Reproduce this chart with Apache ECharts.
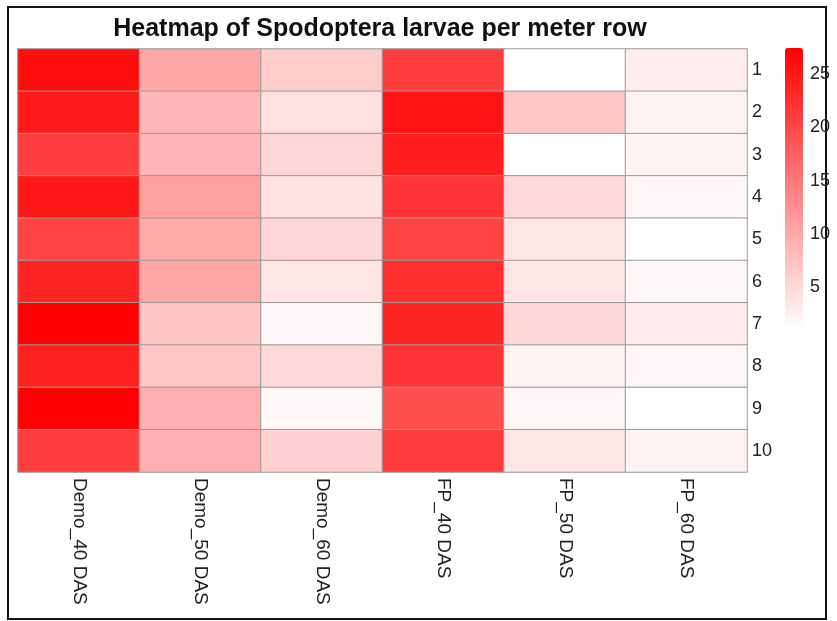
<!DOCTYPE html>
<html>
<head>
<meta charset="utf-8">
<title>Heatmap of Spodoptera larvae</title>
<script src="https://cdn.jsdelivr.net/npm/echarts@6/dist/echarts.min.js"></script>
<style>
  html, body { margin: 0; padding: 0; background: #fff; }
  #main { width: 837px; height: 621px; }
</style>
</head>
<body>
<div id="main"></div>
<script>
// columns (treatments) and rows (replicates)
const treatments = ['Demo_40 DAS', 'Demo_50 DAS', 'Demo_60 DAS', 'FP_40 DAS', 'FP_50 DAS', 'FP_60 DAS'];
const rows = ['1', '2', '3', '4', '5', '6', '7', '8', '9', '10'];

// larvae per meter row (row 1 -> row 10)
const demo40 = [26.0, 24.8, 21.0, 25.0, 20.5, 23.7, 27.5, 24.2, 27.5, 21.0];
const demo50 = [10.1, 8.5, 8.7, 10.9, 9.8, 10.3, 7.1, 6.9, 9.3, 9.3];
const demo60 = [6.3, 4.2, 5.3, 3.9, 5.3, 3.7, 1.8, 5.0, 1.8, 5.8];
const fp40 = [21.0, 25.6, 24.5, 22.1, 20.5, 22.6, 23.7, 22.1, 19.4, 21.3];
const fp50 = [1.0, 6.9, 1.0, 5.0, 3.7, 3.7, 5.3, 2.1, 1.8, 3.7];
const fp60 = [2.9, 2.1, 2.1, 1.8, 1.0, 1.8, 3.1, 1.8, 1.0, 2.3];

const legendTicks = [5, 10, 15, 20, 25];
const scaleMin = 1;
const scaleMax = 27.5;

const columns = [demo40, demo50, demo60, fp40, fp50, fp60];
const cells = [];
columns.forEach((col, xi) => {
	col.forEach((v, yi) => {
		cells.push([xi, yi, v]);
	});
});

const chart = echarts.init(document.getElementById('main'), null, { renderer: 'canvas' });

const font = '"Liberation Sans", Arial, sans-serif';

chart.setOption({
	animation: false,
	backgroundColor: '#ffffff',
	title: {
		text: 'Heatmap of Spodoptera larvae per meter row',
		left: 380,
		top: 17,
		textAlign: 'center',
		padding: 0,
		textStyle: {
			fontFamily: font,
			fontSize: 25,
			fontWeight: 'bold',
			color: '#111'
		}
	},
	grid: [
		{ left: 18, top: 49, width: 729, height: 423 },
		// legend labels sit on this one
		{ left: 803, top: 48, width: 1, height: 281 }
	],
	xAxis: [
		{
			type: 'category',
			data: treatments,
			gridIndex: 0,
			position: 'bottom',
			axisLine: { show: false },
			axisTick: { show: false },
			splitLine: { show: false },
			axisLabel: {
				rotate: -90,
				margin: 6,
				fontFamily: font,
				fontSize: 19,
				color: '#222'
			}
		},
		{ type: 'value', gridIndex: 1, show: false }
	],
	yAxis: [
		{
			type: 'category',
			data: rows,
			gridIndex: 0,
			inverse: true,
			position: 'right',
			axisLine: { show: false },
			axisTick: { show: false },
			splitLine: { show: false },
			axisLabel: {
				margin: 5,
				fontFamily: font,
				fontSize: 18,
				color: '#222'
			}
		},
		{
			type: 'value',
			gridIndex: 1,
			min: scaleMin,
			max: scaleMax,
			position: 'right',
			axisLine: { show: false },
			axisTick: { show: false },
			splitLine: { show: false },
			axisLabel: {
				customValues: legendTicks,
				margin: 6,
				fontFamily: font,
				fontSize: 18,
				color: '#222'
			}
		}
	],
	visualMap: {
		type: 'continuous',
		min: scaleMin,
		max: scaleMax,
		seriesIndex: 0,
		calculable: false,
		orient: 'vertical',
		left: 785,
		top: 48,
		padding: 0,
		itemWidth: 18,
		itemHeight: 281,
		inRange: { color: ['#ffffff', '#ff0000'] }
	},
	series: [
		{
			type: 'heatmap',
			xAxisIndex: 0,
			yAxisIndex: 0,
			data: cells,
			itemStyle: {
				borderColor: '#999999',
				borderWidth: 1
			},
			emphasis: { disabled: true }
		}
	],
	graphic: [
		{
			type: 'rect',
			shape: { x: 8, y: 7, width: 818, height: 612 },
			style: { fill: null, stroke: '#111', lineWidth: 2 },
			silent: true
		}
	]
});
</script>
</body>
</html>
